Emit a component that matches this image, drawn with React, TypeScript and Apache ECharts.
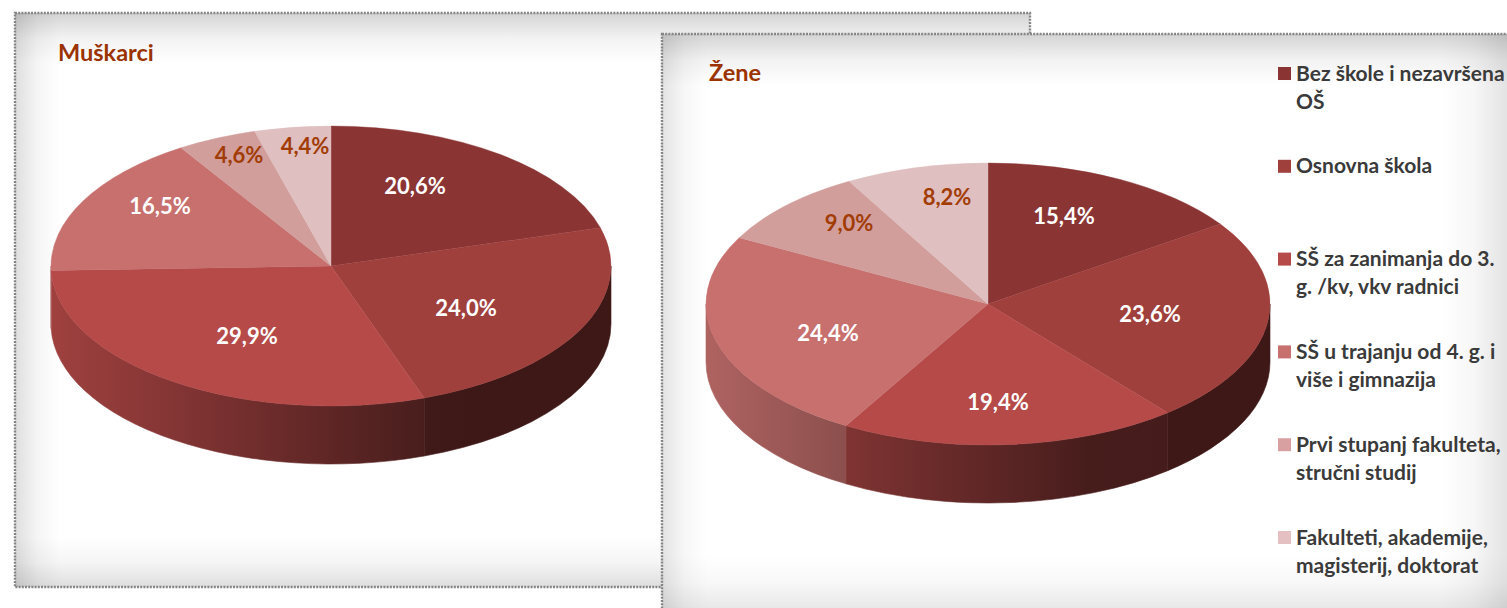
import React, { useEffect, useRef } from "react";
import * as echarts from "echarts";

const categories = [
  "Bez škole i nezavršena\nOŠ",
  "Osnovna škola",
  "SŠ za zanimanja do 3.\ng. /kv, vkv radnici",
  "SŠ u trajanju od 4. g. i\nviše i gimnazija",
  "Prvi stupanj fakulteta,\nstručni studij",
  "Fakulteti, akademije,\nmagisterij, doktorat",
];
const menValues = [20.6, 24.0, 29.9, 16.5, 4.6, 4.4];
const womenValues = [15.4, 23.6, 19.4, 24.4, 9.0, 8.2];
const sliceColors = ["#8A3534", "#A0403D", "#B54A48", "#C7706E", "#D19E9C", "#DFBFC0"];
const legendColors = ["#8A3534", "#A0403D", "#B54A48", "#C7706E", "#D9A0A2", "#E4C0C3"];
const labelColors = ["#FFFFFF", "#FFFFFF", "#FFFFFF", "#FFFFFF", "#A23C05", "#A23C05"];
const menTitle = "Muškarci";
const womenTitle = "Žene";

const FONT = "Lato";
const menLabelOffsets = [[84, -81], [135, 41], [-84, 69], [-171, -61], [-92, -112], [-26, -121]];
const womenLabelOffsets = [[76, -89], [162, 9], [10, 97], [-160, 28], [-139, -82], [-41, -108]];

function shade(hex: string, k: number) {
  const n = parseInt(hex.slice(1), 16);
  const c = [(n >> 16) & 255, (n >> 8) & 255, n & 255].map((v) => Math.round(v * k));
  return `rgb(${c[0]},${c[1]},${c[2]})`;
}
const brightness = (t: number) => Math.max(0.38, 0.88 - 0.72 * t);

function pieSeries(values: number[], cx: number, cy: number, rx: number, ry: number, depth: number, offsets: number[][]) {
  const total = values.reduce((a, b) => a + b, 0);
  const pt = (a: number, dy = 0): [number, number] => [cx + rx * Math.sin(a), cy - ry * Math.cos(a) + dy];
  return {
    type: "custom",
    coordinateSystem: "none",
    silent: true,
    data: values,
    renderItem: (params: any, api: any) => {
      const i = params.dataIndex;
      const before = values.slice(0, i).reduce((a, b) => a + b, 0);
      const a0 = (before / total) * Math.PI * 2;
      const a1 = a0 + (api.value(0) / total) * Math.PI * 2;
      const children: any[] = [];
      // front wall: the part of the slice between 3 and 9 o'clock
      const w0 = Math.max(a0, Math.PI / 2);
      const w1 = Math.min(a1, (Math.PI * 3) / 2);
      if (w1 > w0) {
        const [x0, y0] = pt(w0);
        const [x1, y1] = pt(w1);
        const [bx0, by0] = pt(w0, depth);
        const [bx1, by1] = pt(w1, depth);
        const xl = Math.min(x0, x1);
        const xr = Math.max(x0, x1);
        const stops = [0, 0.25, 0.5, 0.75, 1].map((o) => ({
          offset: o,
          color: shade(sliceColors[i], brightness((xl + (xr - xl) * o - (cx - rx)) / (2 * rx))),
        }));
        const grad = new echarts.graphic.LinearGradient(xl, 0, xr, 0, stops, true);
        children.push({
          type: "path",
          shape: {
            pathData: `M${x0} ${y0}A${rx} ${ry} 0 0 1 ${x1} ${y1}L${bx1} ${by1}A${rx} ${ry} 0 0 0 ${bx0} ${by0}Z`,
          },
          style: { fill: grad, stroke: grad, lineWidth: 0.6 },
          z2: 1,
        });
      }
      const [tx0, ty0] = pt(a0);
      const [tx1, ty1] = pt(a1);
      const large = a1 - a0 > Math.PI ? 1 : 0;
      children.push({
        type: "path",
        shape: { pathData: `M${cx} ${cy}L${tx0} ${ty0}A${rx} ${ry} 0 ${large} 1 ${tx1} ${ty1}Z` },
        style: { fill: sliceColors[i], stroke: sliceColors[i], lineWidth: 0.4 },
        z2: 2 + i,
      });
      children.push({
        type: "text",
        x: cx + offsets[i][0],
        y: cy + offsets[i][1],
        z2: 20,
        style: {
          text: api.value(0).toFixed(1).replace(".", ",") + "%",
          fontFamily: FONT,
          fontWeight: 700,
          fontSize: 22,
          fill: labelColors[i],
          align: "center",
          verticalAlign: "middle",
        },
      });
      return { type: "group", children };
    },
  };
}

function band(x: number, y: number, w: number, h: number, dir: "t" | "b" | "l" | "r", alpha: number) {
  const c0 = `rgba(0,0,0,${alpha})`;
  const c1 = "rgba(0,0,0,0)";
  const g = dir === "t" ? [0, 0, 0, 1] : dir === "b" ? [0, 1, 0, 0] : dir === "l" ? [0, 0, 1, 0] : [1, 0, 0, 0];
  return {
    type: "rect",
    shape: { x, y, width: w, height: h },
    style: {
      fill: new echarts.graphic.LinearGradient(g[0], g[1], g[2], g[3], [
        { offset: 0, color: c0 },
        { offset: 0.5, color: `rgba(0,0,0,${alpha * 0.3})` },
        { offset: 1, color: c1 },
      ]),
    },
    silent: true,
  };
}

function panelBorder(x: number, y: number, w: number, h: number) {
  return {
    type: "rect",
    shape: { x, y, width: w, height: h },
    style: { fill: "none", stroke: "#858585", lineWidth: 2.4, lineDash: [2, 1.2] },
    silent: true,
  };
}

function panelBase(x: number, y: number, w: number, h: number) {
  return { type: "rect", shape: { x, y, width: w, height: h }, style: { fill: "#FFFFFF" }, silent: true };
}

export default function App() {
  const ref = useRef<HTMLDivElement>(null);
  useEffect(() => {
    const chart = echarts.init(ref.current!, null, { renderer: "svg" });
    const legendItems: any[] = [];
    categories.forEach((c, i) => {
      const y = 67 + i * 92.8;
      legendItems.push({
        type: "rect",
        shape: { x: 1278, y, width: 13, height: 13 },
        style: { fill: legendColors[i] },
        silent: true,
      });
      legendItems.push({
        type: "text",
        x: 1296,
        y: y - 9,
        style: {
          text: c,
          fontFamily: FONT,
          fontWeight: 700,
          fontSize: 21,
          lineHeight: 28,
          fill: "#3A3A3A",
          align: "left",
          verticalAlign: "top",
        },
        silent: true,
      });
    });
    chart.setOption({
      animation: false,
      backgroundColor: "#FFFFFF",
      title: [
        {
          text: menTitle,
          left: 58,
          top: 40,
          padding: 0,
          textStyle: { fontFamily: FONT, fontWeight: 700, fontSize: 23.5, color: "#9A3300" },
        },
        {
          text: womenTitle,
          left: 709,
          top: 60,
          padding: 0,
          textStyle: { fontFamily: FONT, fontWeight: 700, fontSize: 23.5, color: "#9A3300" },
        },
      ],
      graphic: {
        elements: [
          panelBase(15, 13, 1015, 574),
          band(15, 13, 1015, 50, "t", 0.17),
          band(15, 537, 1015, 50, "b", 0.13),
          band(15, 13, 45, 574, "l", 0.13),
          panelBorder(15, 13, 1015, 574),
          panelBase(662, 34, 900, 640),
          band(662, 34, 900, 52, "t", 0.17),
          band(662, 555, 900, 53, "b", 0.09),
          band(662, 34, 45, 640, "l", 0.11),
          band(1440, 34, 67, 640, "r", 0.11),
          panelBorder(662, 34, 900, 640),
          ...legendItems,
        ],
      },
      series: [
        pieSeries(menValues, 331, 266, 280, 140, 58, menLabelOffsets),
        pieSeries(womenValues, 988, 304, 282, 141, 58, womenLabelOffsets),
      ],
    });
    return () => chart.dispose();
  }, []);
  return <div ref={ref} style={{ position: "fixed", left: 0, top: 0, width: 1507, height: 608 }} />;
}
